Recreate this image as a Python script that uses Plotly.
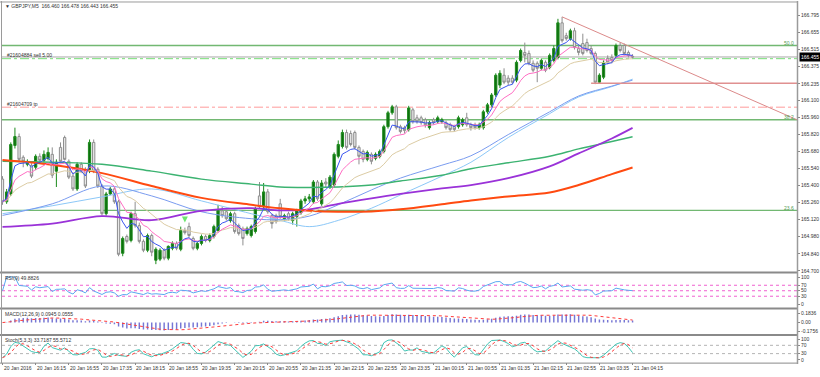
import pandas as pd
import plotly.graph_objects as go

# ---------------- data (GBPJPY M5, 20 Jan 15:35 -> 21 Jan 04:15) ----------------
bars = list(range(153))

opens = [165.453, 165.267, 165.331, 165.729, 165.802, 165.632, 165.574, 165.566, 165.550, 165.640,
         165.607, 165.623, 165.656, 165.518, 165.713, 165.794, 165.599, 165.477, 165.372, 165.574,
         165.534, 165.518, 165.754, 165.534, 165.396, 165.169, 165.331, 165.372, 165.267, 164.844,
         164.982, 164.950, 165.169, 165.071, 164.942, 164.869, 164.990, 164.787, 164.796, 164.869,
         164.804, 164.885, 164.925, 164.877, 165.031, 165.063, 164.966, 164.885, 164.925, 164.982,
         164.950, 164.982, 165.031, 165.193, 165.185, 165.112, 165.169, 165.071, 165.047, 165.006,
         164.990, 165.023, 165.315, 165.226, 165.348, 165.153, 165.153, 165.250, 165.128, 165.169,
         165.112, 165.145, 165.177, 165.274, 165.291, 165.267, 165.429, 165.250, 165.429, 165.388,
         165.404, 165.640, 165.721, 165.835, 165.827, 165.835, 165.713, 165.680, 165.615, 165.656,
         165.623, 165.640, 165.680, 165.883, 165.997, 166.046, 165.883, 165.875, 165.859, 166.021,
         165.956, 165.956, 165.940, 165.875, 165.940, 165.924, 165.924, 165.916, 165.899, 165.883,
         165.883, 165.899, 165.956, 165.899, 165.899, 165.875, 165.875, 166.005, 166.062, 166.143,
         166.224, 166.305, 166.281, 166.281, 166.265, 166.427, 166.492, 166.484, 166.403, 166.403,
         166.362, 166.411, 166.370, 166.427, 166.451, 166.735, 166.630, 166.606, 166.670, 166.524,
         166.565, 166.573, 166.524, 166.484, 166.248, 166.289, 166.443, 166.451, 166.468, 166.549,
         166.549, 166.492, 166.460]

highs = [165.477, 165.372, 165.754, 165.875, 165.827, 165.648, 165.615, 165.583, 165.656, 165.664,
         165.688, 165.713, 165.713, 165.615, 165.754, 165.810, 165.615, 165.494, 165.591, 165.591,
         165.550, 165.778, 165.778, 165.550, 165.412, 165.348, 165.388, 165.388, 165.283, 164.982,
         164.998, 165.185, 165.267, 165.096, 164.958, 165.006, 165.006, 164.893, 164.885, 164.885,
         164.909, 164.942, 164.942, 165.063, 165.055, 165.096, 164.982, 164.942, 164.998, 164.998,
         165.006, 165.079, 165.242, 165.226, 165.201, 165.185, 165.185, 165.088, 165.063, 165.063,
         165.079, 165.226, 165.429, 165.421, 165.372, 165.169, 165.169, 165.291, 165.169, 165.185,
         165.185, 165.209, 165.291, 165.315, 165.331, 165.445, 165.445, 165.445, 165.461, 165.486,
         165.672, 165.770, 165.859, 165.859, 165.851, 165.851, 165.729, 165.696, 165.688, 165.672,
         165.672, 165.696, 165.899, 166.013, 166.062, 166.062, 165.899, 165.891, 166.054, 166.037,
         165.981, 165.973, 165.956, 165.932, 165.956, 165.973, 165.956, 165.932, 165.916, 165.899,
         165.973, 165.956, 165.997, 165.916, 165.916, 165.916, 166.021, 166.078, 166.159, 166.321,
         166.346, 166.362, 166.305, 166.305, 166.427, 166.524, 166.573, 166.508, 166.427, 166.419,
         166.443, 166.427, 166.484, 166.549, 166.768, 166.784, 166.654, 166.687, 166.695, 166.549,
         166.646, 166.605, 166.549, 166.500, 166.321, 166.427, 166.468, 166.476, 166.565, 166.573,
         166.565, 166.508, 166.478]

lows = [165.242, 165.250, 165.315, 165.704, 165.591, 165.550, 165.558, 165.461, 165.526, 165.583,
        165.591, 165.607, 165.461, 165.388, 165.583, 165.607, 165.453, 165.356, 165.356, 165.502,
        165.380, 165.502, 165.502, 165.380, 165.153, 165.153, 165.323, 165.250, 164.820, 164.820,
        164.925, 164.934, 165.055, 164.925, 164.853, 164.853, 164.820, 164.755, 164.780, 164.787,
        164.787, 164.869, 164.869, 164.861, 164.998, 164.974, 164.869, 164.869, 164.909, 164.934,
        164.934, 164.966, 165.014, 165.136, 165.112, 165.096, 165.006, 164.990, 164.909, 164.990,
        164.974, 165.006, 165.209, 165.209, 165.169, 165.047, 165.088, 165.128, 165.112, 165.112,
        165.080, 165.063, 165.161, 165.250, 165.267, 165.250, 165.274, 165.234, 165.388, 165.372,
        165.388, 165.623, 165.704, 165.696, 165.721, 165.696, 165.574, 165.591, 165.599, 165.574,
        165.607, 165.623, 165.664, 165.867, 165.981, 165.859, 165.827, 165.827, 165.843, 165.908,
        165.908, 165.899, 165.875, 165.859, 165.899, 165.908, 165.908, 165.859, 165.843, 165.843,
        165.867, 165.883, 165.883, 165.851, 165.859, 165.859, 165.859, 165.989, 166.046, 166.127,
        166.200, 166.232, 166.224, 166.232, 166.248, 166.411, 166.411, 166.387, 166.330, 166.248,
        166.346, 166.330, 166.354, 166.411, 166.435, 166.573, 166.589, 166.589, 166.516, 166.468,
        166.468, 166.492, 166.468, 166.232, 166.240, 166.273, 166.395, 166.403, 166.451, 166.492,
        166.468, 166.451, 166.443]

closes = [165.267, 165.348, 165.737, 165.802, 165.615, 165.599, 165.591, 165.477, 165.640, 165.607,
          165.656, 165.672, 165.485, 165.591, 165.599, 165.615, 165.469, 165.372, 165.574, 165.518,
          165.396, 165.754, 165.518, 165.396, 165.169, 165.331, 165.372, 165.267, 164.836, 164.966,
          164.942, 165.169, 165.071, 164.942, 164.869, 164.990, 164.853, 164.877, 164.869, 164.804,
          164.901, 164.925, 164.885, 165.031, 165.014, 164.990, 164.885, 164.925, 164.982, 164.950,
          164.990, 165.063, 165.193, 165.153, 165.128, 165.169, 165.023, 165.006, 164.966, 165.047,
          165.063, 165.209, 165.226, 165.348, 165.185, 165.088, 165.104, 165.145, 165.153, 165.128,
          165.169, 165.193, 165.274, 165.291, 165.307, 165.429, 165.291, 165.421, 165.413, 165.469,
          165.656, 165.737, 165.835, 165.713, 165.737, 165.713, 165.640, 165.615, 165.672, 165.599,
          165.656, 165.680, 165.883, 165.997, 166.046, 165.875, 165.843, 165.851, 166.037, 165.924,
          165.924, 165.916, 165.899, 165.916, 165.916, 165.956, 165.940, 165.875, 165.859, 165.859,
          165.956, 165.940, 165.899, 165.875, 165.875, 165.899, 166.005, 166.062, 166.143, 166.305,
          166.321, 166.248, 166.248, 166.248, 166.411, 166.508, 166.468, 166.403, 166.346, 166.362,
          166.427, 166.346, 166.468, 166.524, 166.735, 166.589, 166.606, 166.670, 166.532, 166.492,
          166.484, 166.508, 166.484, 166.248, 166.305, 166.411, 166.411, 166.427, 166.549, 166.508,
          166.484, 166.468, 166.455]

# slow moving averages at sample bars
ma_bars = [0, 12, 24, 36, 48, 60, 67, 74, 81, 89, 96, 106, 113, 122, 132, 139, 147, 152]
ma_green = [165.599, 165.591, 165.575, 165.518, 165.453, 165.412, 165.388, 165.384, 165.388,
            165.404, 165.437, 165.485, 165.538, 165.587, 165.640, 165.701, 165.761, 165.800]
ma_orange = [165.610, 165.571, 165.502, 165.396, 165.299, 165.242, 165.213, 165.193, 165.185,
             165.188, 165.205, 165.246, 165.277, 165.311, 165.343, 165.404, 165.494, 165.548]
ma_purple = [165.061, 165.088, 165.149, 165.116, 165.193, 165.214, 165.197, 165.205, 165.250,
             165.295, 165.331, 165.376, 165.404, 165.461, 165.558, 165.664, 165.786, 165.873]
ma_blue_a = [165.155, 165.250, 165.396, 165.315, 165.185, 165.128, 165.120, 165.149, 165.242,
             165.364, 165.461, 165.567, 165.644, 165.818, 166.005, 166.135, 166.216, 166.265]
ma_blue_b = [165.169, 165.234, 165.307, 165.372, 165.274, 165.169, 165.114, 165.063, 165.114,
             165.214, 165.323, 165.477, 165.591, 165.794, 165.990, 166.127, 166.212, 166.273]

# levels
fib_levels = [166.549, 165.940, 165.196]
fib_labels = ["50.0", "38.2", "23.6"]
bid_price = 166.455
sell_price = 166.441
tp_price = 166.043
support_price = 166.240
support_start_bar = 142
trend_bars = [135, 191.67]
trend_prices = [166.784, 165.940]
arrow_bar = [44]
arrow_price = [165.096]

price_ticks = [166.795, 166.655, 166.515, 166.375, 166.235, 166.100, 165.960, 165.820,
               165.680, 165.540, 165.400, 165.260, 165.120, 164.980, 164.840, 164.700]
price_tick_text = ["%.3f" % v for v in price_ticks]

time_bars = list(range(0, 153, 8))
time_labels = ["20 Jan 2016", "20 Jan 16:15", "20 Jan 16:55", "20 Jan 17:35", "20 Jan 18:15",
               "20 Jan 18:55", "20 Jan 19:35", "20 Jan 20:15", "20 Jan 20:55", "20 Jan 21:35",
               "20 Jan 22:15", "20 Jan 22:55", "20 Jan 23:35", "21 Jan 00:15", "21 Jan 00:55",
               "21 Jan 01:35", "21 Jan 02:15", "21 Jan 02:55", "21 Jan 03:35", "21 Jan 04:15"]

# ---------------- indicators derived from the candles ----------------
c = pd.Series(closes)
h = pd.Series(highs)
l = pd.Series(lows)
ema_blue = c.ewm(span=5, adjust=False).mean()
ema_pink = c.ewm(span=10, adjust=False).mean()
ema_tan = c.ewm(span=21, adjust=False).mean()

d = c.diff().fillna(0)
up = d.clip(lower=0).ewm(alpha=1 / 9, adjust=False).mean()
dn = (-d.clip(upper=0)).ewm(alpha=1 / 9, adjust=False).mean()
rsi = (100 * up / (up + dn)).fillna(50)

macd = c.ewm(span=12, adjust=False).mean() - c.ewm(span=26, adjust=False).mean()
macd_sig = macd.rolling(9, min_periods=1).mean()

ll = l.rolling(5, min_periods=1).min()
hh = h.rolling(5, min_periods=1).max()
k = 100 * (c - ll).rolling(3, min_periods=1).sum() / (hh - ll).rolling(3, min_periods=1).sum()
k = k.fillna(50)
dline = k.rolling(3, min_periods=1).mean()

# ---------------- figure ----------------
FONT = "Liberation Sans, Arial, DejaVu Sans"
W, H = 820, 377


def py(px):
    return 1 - px / H


X0, X1 = 2 / W, 797 / W
fig = go.Figure()

fig.add_trace(go.Candlestick(
    x=bars, open=opens, high=highs, low=lows, close=closes,
    increasing=dict(line=dict(color="#1c8a1c", width=1), fillcolor="#0e6e0e"),
    decreasing=dict(line=dict(color="#8e8e8e", width=1), fillcolor="#e8e8e8"),
    whiskerwidth=0, showlegend=False, hoverinfo="skip", xaxis="x", yaxis="y"))


def slow(vals, color, width):
    fig.add_trace(go.Scatter(x=ma_bars, y=vals, mode="lines",
                             line=dict(color=color, width=width, shape="spline", smoothing=1.0),
                             showlegend=False, hoverinfo="skip", xaxis="x", yaxis="y"))


slow(ma_blue_b, "#8cc8f8", 1)
slow(ma_blue_a, "#7a9cf0", 1)
slow(ma_green, "#3cb371", 1.4)
slow(ma_purple, "#9a32d8", 1.8)
slow(ma_orange, "#ff4a10", 2)

for series, color in [(ema_tan, "#dccca4"), (ema_pink, "#ff6ec4"), (ema_blue, "#3a55f0")]:
    fig.add_trace(go.Scatter(x=bars, y=series, mode="lines", line=dict(color=color, width=1),
                             showlegend=False, hoverinfo="skip", xaxis="x", yaxis="y"))

fig.add_trace(go.Scatter(x=arrow_bar, y=arrow_price, mode="markers",
                         marker=dict(symbol="arrow-down", size=6, color="#6ee66e"),
                         showlegend=False, hoverinfo="skip", xaxis="x", yaxis="y"))

# RSI
fig.add_trace(go.Scatter(x=bars, y=rsi, mode="lines", line=dict(color="#5aa8f0", width=1),
                         showlegend=False, hoverinfo="skip", xaxis="x", yaxis="y2"))
# MACD
fig.add_trace(go.Bar(x=bars, y=macd, width=0.35, marker=dict(color="#7676d4", line=dict(width=0)),
                     showlegend=False, hoverinfo="skip", xaxis="x", yaxis="y3"))
fig.add_trace(go.Scatter(x=bars, y=macd_sig, mode="lines", line=dict(color="#ff3a3a", width=1, dash="dot"),
                         showlegend=False, hoverinfo="skip", xaxis="x", yaxis="y3"))
# Stochastic
fig.add_trace(go.Scatter(x=bars, y=k, mode="lines", line=dict(color="#40c4b4", width=1),
                         showlegend=False, hoverinfo="skip", xaxis="x", yaxis="y4"))
fig.add_trace(go.Scatter(x=bars, y=dline, mode="lines", line=dict(color="#ff3a3a", width=1, dash="dot"),
                         showlegend=False, hoverinfo="skip", xaxis="x", yaxis="y4"))

shapes = []
for lv in fib_levels:
    shapes.append(dict(type="line", xref="paper", yref="y", x0=X0, x1=X1, y0=lv, y1=lv,
                       line=dict(color="#72b872", width=1.3), layer="below"))
shapes.append(dict(type="line", xref="paper", yref="y", x0=X0, x1=X1, y0=bid_price, y1=bid_price,
                   line=dict(color="#a8a8a8", width=1), layer="below"))
shapes.append(dict(type="line", xref="paper", yref="y", x0=X0, x1=X1, y0=sell_price, y1=sell_price,
                   line=dict(color="#77dd77", width=1, dash="dashdot"), layer="below"))
shapes.append(dict(type="line", xref="paper", yref="y", x0=X0, x1=X1, y0=tp_price, y1=tp_price,
                   line=dict(color="#ff9a9a", width=1, dash="dashdot"), layer="below"))
shapes.append(dict(type="line", xref="x", yref="y", x0=support_start_bar, x1=191.67,
                   y0=support_price, y1=support_price, line=dict(color="#e09090", width=1.5)))
shapes.append(dict(type="line", xref="x", yref="y", x0=trend_bars[0], x1=trend_bars[1],
                   y0=trend_prices[0], y1=trend_prices[1], line=dict(color="#dc8a8a", width=1)))
for lv in [70, 50, 30]:
    shapes.append(dict(type="line", xref="paper", yref="y2", x0=X0, x1=X1, y0=lv, y1=lv,
                       line=dict(color="#f060d0", width=1, dash="dot"), layer="below"))
for lv in [70, 30]:
    shapes.append(dict(type="line", xref="paper", yref="y4", x0=X0, x1=X1, y0=lv, y1=lv,
                       line=dict(color="#b4b4b4", width=1, dash="dot"), layer="below"))
# frame / separators
for ypx in [274.5, 310.8, 337.6]:
    shapes.append(dict(type="line", xref="paper", yref="paper", x0=0, x1=798 / W, y0=py(ypx), y1=py(ypx),
                       line=dict(color="#8a8a8a", width=2)))
shapes.append(dict(type="line", xref="paper", yref="paper", x0=0, x1=798 / W, y0=py(366), y1=py(366),
                   line=dict(color="#8a8a8a", width=1)))
shapes.append(dict(type="line", xref="paper", yref="paper", x0=0, x1=798 / W, y0=py(1), y1=py(1),
                   line=dict(color="#9a9a9a", width=1)))
shapes.append(dict(type="line", xref="paper", yref="paper", x0=1.5 / W, x1=1.5 / W, y0=py(0), y1=py(366),
                   line=dict(color="#9a9a9a", width=1)))
shapes.append(dict(type="line", xref="paper", yref="paper", x0=797.5 / W, x1=797.5 / W, y0=py(0), y1=py(367),
                   line=dict(color="#9a9a9a", width=1.5)))

tf = dict(family=FONT, size=5, color="#333333")
ann = []
ann.append(dict(text="▼ GBPJPY,M5  166.460 166.478 166.443 166.455", xref="paper", yref="paper",
                x=3 / W, y=py(5.5), xanchor="left", yanchor="middle", showarrow=False, font=tf))
ann.append(dict(text="#21604884 sell 5.00", xref="paper", yref="paper", x=5 / W, y=py(55),
                xanchor="left", yanchor="middle", showarrow=False, font=tf))
ann.append(dict(text="#21604709 tp", xref="paper", yref="paper", x=5 / W, y=py(104.5),
                xanchor="left", yanchor="middle", showarrow=False, font=tf))
for lv, lab, dy in zip(fib_levels, fib_labels, [42.3, 117, 209.2]):
    ann.append(dict(text=lab, xref="paper", yref="paper", x=796 / W, y=py(dy), xanchor="right",
                    yanchor="middle", showarrow=False, font=dict(family=FONT, size=5, color="#4f9a4f")))
ann.append(dict(text="RSI(9) 49.8826", xref="paper", yref="paper", x=3 / W, y=py(279.5),
                xanchor="left", yanchor="middle", showarrow=False, font=tf))
ann.append(dict(text="MACD(12,26,9) 0.0945 0.0555", xref="paper", yref="paper", x=3 / W, y=py(316),
                xanchor="left", yanchor="middle", showarrow=False, font=tf))
ann.append(dict(text="Stoch(5,3,3) 33.7187 55.5712", xref="paper", yref="paper", x=3 / W, y=py(342.5),
                xanchor="left", yanchor="middle", showarrow=False, font=tf))
ann.append(dict(text="166.455", xref="paper", yref="y", x=799 / W, y=bid_price, xanchor="left",
                yanchor="middle", showarrow=False, bgcolor="#000000", borderpad=1,
                font=dict(family=FONT, size=5, color="#ffffff")))
for b, lab in zip(time_bars, time_labels):
    ann.append(dict(text=lab, xref="x", yref="paper", x=b, y=py(370.5), xanchor="left",
                    yanchor="middle", showarrow=False, borderpad=0, xshift=0, font=tf))

yax = dict(side="right", anchor="x", showgrid=False, zeroline=False, ticks="outside", ticklen=2,
           tickcolor="#888888", tickfont=tf, showline=False, fixedrange=True)

fig.update_layout(
    width=W, height=H, autosize=False,
    margin=dict(l=0, r=0, t=0, b=0),
    paper_bgcolor="white", plot_bgcolor="white",
    showlegend=False, boxgap=0.45, boxgroupgap=0,
    xaxis=dict(domain=[X0, X1], range=[-0.12, 191.67], anchor="y4", showgrid=False, zeroline=False,
               showticklabels=False, ticks="outside", ticklen=2, tickcolor="#888888",
               tickvals=time_bars, rangeslider=dict(visible=False), fixedrange=True, showline=False),
    yaxis=dict(yax, domain=[py(273), py(2)], range=[164.698, 166.898],
               tickvals=price_ticks, ticktext=price_tick_text),
    yaxis2=dict(yax, domain=[py(309), py(276)], range=[-8.3, 110.8], tickvals=[100, 70, 50, 30, 0]),
    yaxis3=dict(yax, domain=[py(336), py(312)], range=[-0.2172, 0.2567],
                tickvals=[0.1836, 0, -0.1756], ticktext=["0.1836", "0.00", "-0.1756"]),
    yaxis4=dict(yax, domain=[py(365), py(339)], range=[-11, 112.9], tickvals=[100, 70, 30, 0]),
    shapes=shapes, annotations=ann,
)

fig.write_html("out.html", config={"displayModeBar": False, "staticPlot": True},
               post_script="document.body.style.margin='0px';document.body.style.overflow='hidden';")
